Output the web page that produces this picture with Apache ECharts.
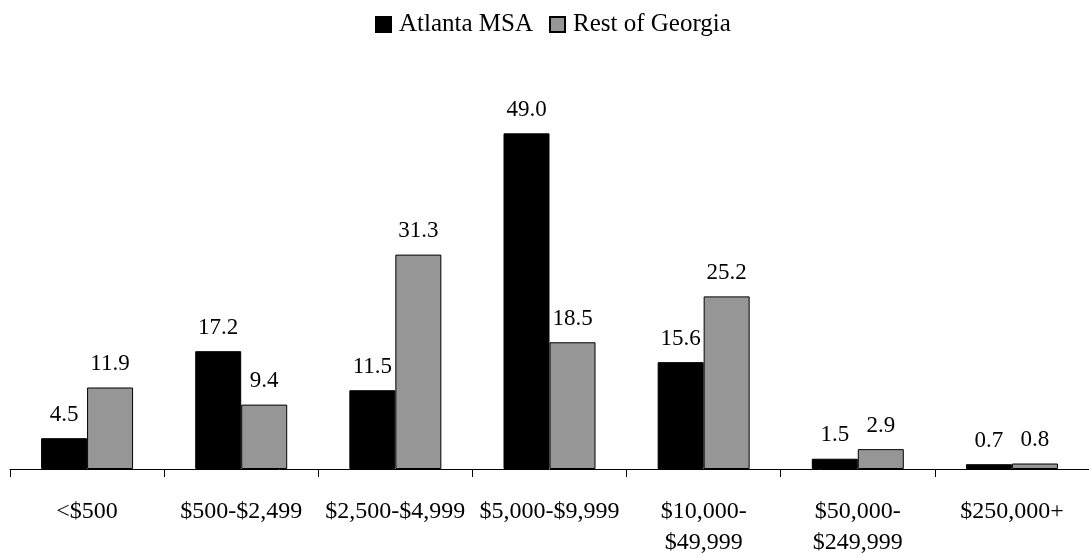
<!DOCTYPE html>
<html>
<head>
<meta charset="utf-8">
<script src="https://cdn.jsdelivr.net/npm/echarts@6/dist/echarts.min.js"></script>
<style>
  html, body { margin: 0; padding: 0; background: #fff; }
  #chart { width: 1089px; height: 558px; }
</style>
</head>
<body>
<div id="chart"></div>
<script>
// Income bands and shares (%) for the two regions
const categories = ['<$500', '$500-$2,499', '$2,500-$4,999', '$5,000-$9,999', '$10,000-\n$49,999', '$50,000-\n$249,999', '$250,000+'];
const atlantaMSA = [4.5, 17.2, 11.5, 49.0, 15.6, 1.5, 0.7];
const restOfGeorgia = [11.9, 9.4, 31.3, 18.5, 25.2, 2.9, 0.8];

const FONT = '"Liberation Serif", "DejaVu Serif", serif';

const chart = echarts.init(document.getElementById('chart'));
const labelStyle = {
  show: true,
  position: 'top',
  distance: 12,
  color: '#000',
  fontFamily: FONT,
  fontSize: 23,
  formatter: p => p.value.toFixed(1)
};

chart.setOption({
  animation: false,
  textStyle: { fontFamily: FONT },
  legend: {
    top: 7,
    left: 370,
    itemWidth: 15,
    itemHeight: 15,
    itemGap: 16,
    icon: 'rect',
    textStyle: { fontFamily: FONT, fontSize: 25, color: '#000', padding: [0, 0, 0, 3] },
    data: ['Atlanta MSA', 'Rest of Georgia']
  },
  grid: { left: 10, top: 58, width: 1083, height: 414 },
  xAxis: {
    type: 'category',
    data: categories,
    boundaryGap: true,
    axisLine: { lineStyle: { color: '#000', width: 1 } },
    axisTick: { show: true, length: 8, lineStyle: { color: '#000' } },
    axisLabel: {
      color: '#000',
      fontFamily: FONT,
      fontSize: 24,
      margin: 27,
      lineHeight: 31,
      interval: 0
    }
  },
  yAxis: {
    type: 'value',
    min: 0,
    max: 60,
    show: false,
    splitLine: { show: false }
  },
  series: [
    {
      name: 'Atlanta MSA',
      type: 'bar',
      data: atlantaMSA,
      barWidth: 46,
      barGap: '0%',
      itemStyle: { color: '#000', borderColor: '#000', borderWidth: 1 },
      label: labelStyle
    },
    {
      name: 'Rest of Georgia',
      type: 'bar',
      data: restOfGeorgia,
      barWidth: 46,
      barGap: '0%',
      itemStyle: { color: '#969696', borderColor: '#000', borderWidth: 1 },
      label: labelStyle
    }
  ]
});
</script>
</body>
</html>
